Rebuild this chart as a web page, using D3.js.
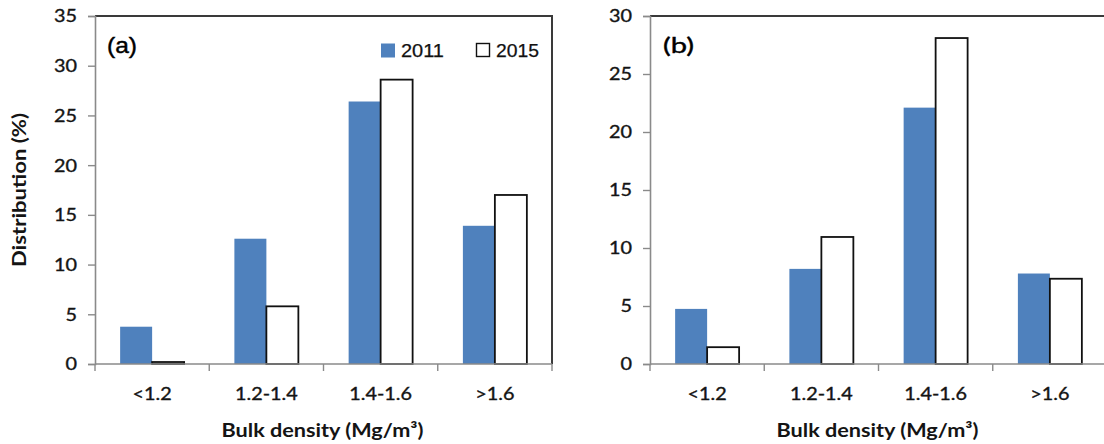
<!DOCTYPE html>
<html>
<head>
<meta charset="utf-8">
<script src="https://cdn.jsdelivr.net/npm/d3@7"></script>
<style>
  html, body { margin: 0; padding: 0; background: #fff; }
  svg { display: block; }
</style>
</head>
<body>
<svg id="chart" width="1104" height="444"></svg>
<script>
// ---- data ----
const categories = ["<1.2", "1.2-1.4", "1.4-1.6", ">1.6"];
const seriesNames = ["2011", "2015"];
const panelLabels = ["(a)", "(b)"];
const a2011 = [3.75, 12.6, 26.4, 13.9];
const a2015 = [0.2, 5.8, 28.6, 17.0];
const b2011 = [4.75, 8.2, 22.1, 7.8];
const b2015 = [1.45, 10.95, 28.1, 7.35];
const aTicks = [0, 5, 10, 15, 20, 25, 30, 35];
const bTicks = [0, 5, 10, 15, 20, 25, 30];
const yTitle = "Distribution (%)";
const xTitle = "Bulk density (Mg/m³)";

// ---- layout ----
const svg = d3.select("#chart");
const plotTop = 16, plotBottom = 364, bandStep = 114.25;
const colors = { "2011": "#4F81BD", "2015": "#FFFFFF" };
const calibri = "Lato, 'Open Sans', sans-serif";
const arial = "'Liberation Sans', Arial, sans-serif";
const txtCol = "#141414";

function stretch(sel, f) {
  sel.each(function () {
    const L = this.getComputedTextLength();
    d3.select(this).attr("textLength", L * f).attr("lengthAdjust", "spacingAndGlyphs");
  });
}
function thicken(sel, w) {
  sel.attr("stroke", txtCol).attr("stroke-width", w).attr("paint-order", "stroke");
}

const panels = [
  { left: 95, ticks: aTicks, max: 35, data: [a2011, a2015], label: panelLabels[0], legend: true, labelFont: arial, labelX: 107, labelLen: 30 },
  { left: 650, ticks: bTicks, max: 30, data: [b2011, b2015], label: panelLabels[1], legend: false, labelFont: calibri, labelX: 663, labelLen: 31 }
];

panels.forEach((p) => {
  const right = p.left + bandStep * 4;
  const x0 = d3.scaleBand().domain(categories).range([p.left, right]).paddingInner(0.44).paddingOuter(0.22);
  const x1 = d3.scaleBand().domain(seriesNames).range([0, x0.bandwidth()]).padding(0);
  const y = d3.scaleLinear().domain([0, p.max]).range([plotBottom, plotTop]);
  const g = svg.append("g");

  // plot frame (top/right dark)
  g.append("path")
    .attr("d", `M${p.left},${plotTop}H${right}V${plotBottom}`)
    .attr("fill", "none").attr("stroke", "#3a3a3a").attr("stroke-width", 2);

  // bars
  seriesNames.forEach((s, si) => {
    g.append("g").selectAll("rect").data(categories).join("rect")
      .attr("x", c => x0(c) + x1(s))
      .attr("y", (c, i) => y(p.data[si][i]))
      .attr("width", x1.bandwidth())
      .attr("height", (c, i) => plotBottom - y(p.data[si][i]))
      .attr("fill", colors[s])
      .attr("stroke", si === 1 ? "#111" : "none")
      .attr("stroke-width", si === 1 ? 1.8 : 0);
  });

  // y axis
  const yAxis = d3.axisLeft(y).tickValues(p.ticks).tickSize(7).tickPadding(11).tickFormat(d3.format("d"));
  const ya = g.append("g").attr("transform", `translate(${p.left},0)`).call(yAxis);
  ya.select(".domain").attr("stroke", "#8a8a8a").attr("stroke-width", 1.6);
  ya.selectAll(".tick line").attr("stroke", "#8a8a8a").attr("stroke-width", 1.4);
  ya.selectAll(".tick text").attr("font-family", calibri).attr("font-size", 16.5).attr("fill", txtCol).attr("dy", "0.36em");
  thicken(ya.selectAll(".tick text"), 0.35);
  stretch(ya.selectAll(".tick text"), 1.2);

  // x axis with ticks at category boundaries
  const xa = g.append("g").attr("transform", `translate(0,${plotBottom})`);
  xa.append("line").attr("x1", p.left).attr("x2", right).attr("stroke", "#8a8a8a").attr("stroke-width", 1.6);
  const bounds = d3.range(5).map(i => p.left + i * x0.step());
  xa.selectAll("line.tk").data(bounds).join("line").attr("class", "tk")
    .attr("x1", d => d).attr("x2", d => d).attr("y1", 0).attr("y2", 7)
    .attr("stroke", "#8a8a8a").attr("stroke-width", 1.4);
  const cl = xa.selectAll("text").data(categories).join("text")
    .attr("x", c => x0(c) + x0.bandwidth() / 2).attr("y", 36)
    .attr("text-anchor", "middle").attr("font-family", calibri).attr("font-size", 16.5).attr("fill", txtCol)
    .text(c => c);
  thicken(cl, 0.35);
  stretch(cl, 1.2);

  // x title
  g.append("text").attr("x", (p.left + right) / 2 - 1).attr("y", 437)
    .attr("text-anchor", "middle").attr("font-family", calibri).attr("font-weight", "bold")
    .attr("font-size", 18.5).attr("fill", txtCol)
    .attr("textLength", 202).attr("lengthAdjust", "spacingAndGlyphs")
    .text(xTitle);

  // panel label
  g.append("text").attr("x", p.labelX).attr("y", 53)
    .attr("font-family", p.labelFont).attr("font-size", 22).attr("fill", "#000")
    .attr("stroke", "#000").attr("stroke-width", 0.4)
    .attr("textLength", p.labelLen).attr("lengthAdjust", "spacingAndGlyphs")
    .text(p.label);

  // legend
  if (p.legend) {
    const lg = g.append("g");
    const lx = [381, 476];
    seriesNames.forEach((s, si) => {
      lg.append("rect").attr("x", lx[si] + (si ? 0.5 : 0)).attr("y", 43.5).attr("width", si ? 13 : 14).attr("height", si ? 13 : 14)
        .attr("fill", colors[s]).attr("stroke", si ? "#111" : "none").attr("stroke-width", 1.4);
      lg.append("text").attr("x", lx[si] + 20).attr("y", 56.5)
        .attr("font-family", arial).attr("font-size", 18).attr("fill", "#111")
        .attr("stroke", "#111").attr("stroke-width", 0.25)
        .attr("textLength", 43).attr("lengthAdjust", "spacingAndGlyphs")
        .text(s);
    });
  }
});

// y title (only left panel)
svg.append("text")
  .attr("transform", "translate(26,190) rotate(-90)")
  .attr("text-anchor", "middle").attr("font-family", calibri).attr("font-weight", "bold")
  .attr("font-size", 18.5).attr("fill", txtCol)
  .attr("textLength", 154).attr("lengthAdjust", "spacingAndGlyphs")
  .text(yTitle);
</script>
</body>
</html>
